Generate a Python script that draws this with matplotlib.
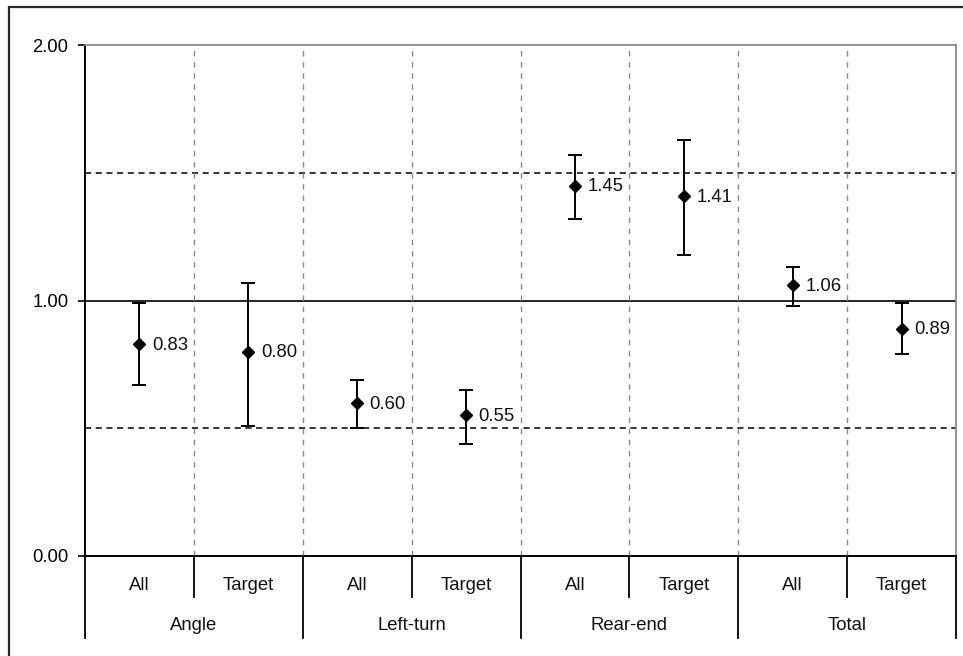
import matplotlib
matplotlib.use("Agg")
import matplotlib.pyplot as plt
from matplotlib.patches import Rectangle

plt.rcParams['font.family'] = ['Liberation Sans', 'DejaVu Sans']

# crash type groups and sub-categories
groups = ['Angle', 'Left-turn', 'Rear-end', 'Total']
subs = ['All', 'Target']

# index estimates with lower / upper confidence limits
estimate = [0.83, 0.80, 0.60, 0.55, 1.45, 1.41, 1.06, 0.89]
lower = [0.67, 0.51, 0.50, 0.44, 1.32, 1.18, 0.98, 0.79]
upper = [0.99, 1.07, 0.69, 0.65, 1.57, 1.63, 1.13, 0.99]

W, H = 963, 656
fig = plt.figure(figsize=(W / 100, H / 100), dpi=100)
ax = fig.add_axes([85 / W, 1 - 556 / H, 871 / W, 511 / H])

n = len(estimate)
xs = [i + 0.5 for i in range(n)]
yerr = [[e - l for e, l in zip(estimate, lower)],
        [u - e for e, u in zip(estimate, upper)]]

# reference lines
ax.axhline(1.0, color='black', lw=1.2, zorder=1)
for y in (0.5, 1.5):
    ax.axhline(y, color='black', lw=1.1, ls=(0, (4, 3)), zorder=1)
for x in range(1, n):
    ax.axvline(x, color='#8a8a8a', lw=1.0, ls=(0, (4, 4)), zorder=1)

ax.errorbar(xs, estimate, yerr=yerr, fmt='D', color='black', ms=6,
            ecolor='black', elinewidth=1.4, capsize=5, capthick=1.4, zorder=3)

for x, e in zip(xs, estimate):
    ax.annotate('%.2f' % e, (x, e), xytext=(9, -1), textcoords='offset points',
                va='center', ha='left', fontsize=13.3, color='#111111')

ax.set_xlim(0, n)
ax.set_ylim(0, 2)
ax.set_yticks([0, 1, 2])
ax.set_yticklabels(['0.00', '1.00', '2.00'], fontsize=13.3)
ax.set_xticks([])
ax.tick_params(axis='y', direction='out', length=5, width=1.2, pad=7)

for side in ('top', 'right'):
    ax.spines[side].set_color('#8a8a8a')
    ax.spines[side].set_linewidth(1.3)
for side in ('left', 'bottom'):
    ax.spines[side].set_color('black')
    ax.spines[side].set_linewidth(1.4)

# two-level category axis below the plot
tr = ax.get_xaxis_transform()
for i, x in enumerate(xs):
    ax.text(x, -29 / 511, subs[i % 2], transform=tr, ha='center', va='center',
            fontsize=13.3, color='#111111')
for g, name in enumerate(groups):
    ax.text(2 * g + 1, -70 / 511, name, transform=tr, ha='center',
            va='center', fontsize=13.3, color='#111111')
for x in range(n + 1):
    bottom = -82 / 511 if x % 2 == 0 else -41 / 511
    ax.plot([x, x], [0, bottom], transform=tr, color='black', lw=1.3,
            clip_on=False)

# chart border
fig.patches.append(Rectangle((9 / W, -0.1), 2, 1 - 7 / H + 0.1,
                             transform=fig.transFigure, fill=False,
                             edgecolor='#2a2a2a', lw=1.6))

fig.savefig('out.png', dpi=100)
